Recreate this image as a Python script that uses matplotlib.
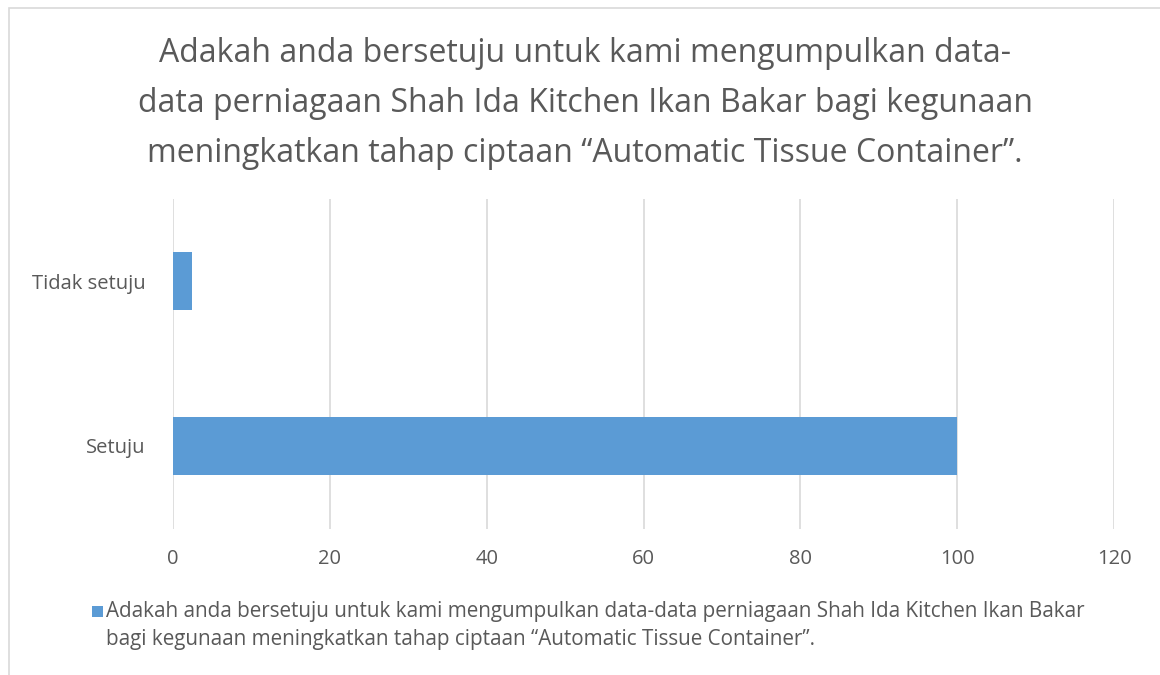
import matplotlib.pyplot as plt
from matplotlib.patches import Rectangle

# data
categories = ['Setuju', 'Tidak setuju']
values = [100, 2.4]
x_ticks = [0, 20, 40, 60, 80, 100, 120]
title = ('Adakah anda bersetuju untuk kami mengumpulkan data-\n'
         'data perniagaan Shah Ida Kitchen Ikan Bakar bagi kegunaan\n'
         'meningkatkan tahap ciptaan \u201cAutomatic Tissue Container\u201d.')
legend_label = ('Adakah anda bersetuju untuk kami mengumpulkan data-data perniagaan Shah Ida Kitchen Ikan Bakar\n'
                'bagi kegunaan meningkatkan tahap ciptaan \u201cAutomatic Tissue Container\u201d.')

plt.rcParams['font.family'] = ['Open Sans', 'DejaVu Sans']
txt = '#595959'
bar_col = '#5B9BD5'

fig = plt.figure(figsize=(11.6, 6.75), dpi=100)
W, H = 1160, 675

# chart border
fig.patches.append(Rectangle((9 / W, -0.1), 1.1, 1 - 8 / H + 0.1, transform=fig.transFigure,
                             fill=False, edgecolor='#D9D9D9', linewidth=1.2))

ax = fig.add_axes([173 / W, 1 - 528.5 / H, (1114 - 173) / W, 330 / H])
ax.barh(range(len(categories)), values, height=0.35, color=bar_col)
ax.set_xlim(0, 120)
ax.set_ylim(-0.5, 1.5)
ax.set_xticks(x_ticks)
ax.set_yticks(range(len(categories)))
ax.set_yticklabels(categories)
ax.grid(axis='x', color='#D9D9D9', linewidth=1.2)
ax.set_axisbelow(True)
for s in ax.spines.values():
    s.set_visible(False)
ax.tick_params(length=0, labelsize=14.5, colors=txt)
ax.tick_params(axis='y', pad=20)
ax.tick_params(axis='x', pad=15)

# title, one line at a time
for i, line in enumerate(title.split('\n')):
    fig.text(585 / W, 1 - (54 + 50 * i) / H, line, ha='center', va='center', fontsize=23, color=txt)

# legend: swatch next to the first line of the label
fig.patches.append(Rectangle((92 / W, 1 - 617 / H), 11 / W, 11 / H, transform=fig.transFigure,
                             facecolor=bar_col, edgecolor='none'))
for i, line in enumerate(legend_label.split('\n')):
    fig.text(106 / W, 1 - (612 + 28 * i) / H, line, ha='left', va='center', fontsize=14.9, color=txt)

fig.savefig('out.png', dpi=100)
